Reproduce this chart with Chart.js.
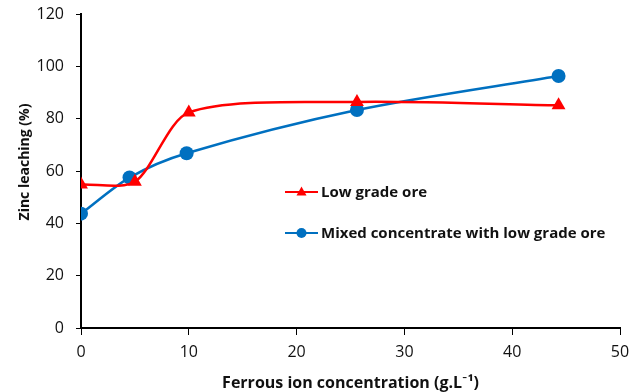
<!DOCTYPE html>
<html><head><meta charset="utf-8">
<script src="https://cdn.jsdelivr.net/npm/chart.js@4/dist/chart.umd.min.js"></script>
<style>html,body{margin:0;padding:0;background:#fff}#wrap{width:643px;height:392px}</style>
</head><body><div id="wrap"><canvas id="c" width="643" height="392"></canvas></div>
<script>
const lowGradeX = [0, 5, 10, 25.6, 44.3];
const lowGradeY = [54.8, 55.9, 82.4, 86.4, 85.1];
const mixedX = [0, 4.5, 9.8, 25.6, 44.3];
const mixedY = [43.7, 57.5, 66.8, 83.3, 96.3];
const seriesNames = ['Low grade ore', 'Mixed concentrate with low grade ore'];
const xTitle = 'Ferrous ion concentration (g.L\u207B\u00B9)';
const yTitle = 'Zinc leaching (%)';

const toPts = (xs, ys) => xs.map((x, i) => ({x: x, y: ys[i]}));
const FONT = "'Open Sans', Lato, sans-serif";
const RED = '#FF0000', BLUE = '#0070C0';

const decorPlugin = {
  id: 'decor',
  afterDraw(chart) {
    const ctx = chart.ctx;
    const area = chart.chartArea;
    ctx.save();
    const items = [
      {name: seriesNames[0], color: RED, style: 'triangle', y: 192},
      {name: seriesNames[1], color: BLUE, style: 'circle', y: 233}
    ];
    items.forEach(it => {
      const x0 = 285, x1 = 318;
      ctx.strokeStyle = it.color; ctx.lineWidth = 2;
      ctx.beginPath(); ctx.moveTo(x0, it.y); ctx.lineTo(x1, it.y); ctx.stroke();
      ctx.fillStyle = it.color;
      const cx = (x0 + x1) / 2;
      ctx.beginPath();
      if (it.style === 'triangle') {
        ctx.moveTo(cx, it.y - 5.5); ctx.lineTo(cx + 5, it.y + 3.5); ctx.lineTo(cx - 5, it.y + 3.5); ctx.closePath();
      } else {
        ctx.arc(cx, it.y, 5, 0, Math.PI * 2);
      }
      ctx.fill();
      ctx.fillStyle = '#111';
      ctx.font = "bold 15px " + FONT;
      ctx.textBaseline = 'middle';
      ctx.textAlign = 'left';
      ctx.fillText(it.name, 321, it.y + 1);
    });
    ctx.fillStyle = '#111';
    ctx.font = "bold 16px " + FONT;
    ctx.textAlign = 'center';
    ctx.textBaseline = 'alphabetic';
    ctx.fillText(xTitle, (area.left + area.right) / 2, 388);
    ctx.font = "bold 14px " + FONT;
    ctx.translate(29, 162);
    ctx.rotate(-Math.PI / 2);
    ctx.fillText(yTitle, 0, 0);
    ctx.restore();
  }
};

new Chart(document.getElementById('c'), {
  type: 'scatter',
  data: {
    datasets: [
      {label: seriesNames[0], data: toPts(lowGradeX, lowGradeY), showLine: true,
       borderColor: RED, backgroundColor: RED, borderWidth: 2.5, tension: 0.27,
       pointStyle: 'triangle', pointRadius: 8, pointHoverRadius: 8, pointBorderWidth: 0},
      {label: seriesNames[1], data: toPts(mixedX, mixedY), showLine: true,
       borderColor: BLUE, backgroundColor: BLUE, borderWidth: 2.5, tension: 0.3,
       pointStyle: 'circle', pointRadius: 7, pointHoverRadius: 7, pointBorderWidth: 0}
    ]
  },
  options: {
    responsive: false, animation: false,
    layout: {padding: {top: 14, right: 23, left: 0, bottom: 0}},
    plugins: {legend: {display: false}, tooltip: {enabled: false}},
    scales: {
      x: {
        type: 'linear', min: 0, max: 50,
        ticks: {stepSize: 10, color: '#111', font: {family: FONT, size: 16}, padding: 8},
        grid: {drawOnChartArea: false, drawTicks: true, tickLength: 7, color: '#000', lineWidth: 1},
        border: {color: '#000', width: 2},
        title: {display: false},
        afterFit(s) { s.height = 64; }
      },
      y: {
        min: 0, max: 120,
        ticks: {stepSize: 20, color: '#111', font: {family: FONT, size: 16}, padding: 12},
        grid: {drawOnChartArea: false, drawTicks: true, tickLength: 5, color: '#000', lineWidth: 1},
        border: {color: '#000', width: 2},
        title: {display: false},
        afterFit(s) { s.width = 81; s.paddingTop = 0; s.paddingBottom = 0; }
      }
    }
  },
  plugins: [decorPlugin]
});
</script></body></html>
